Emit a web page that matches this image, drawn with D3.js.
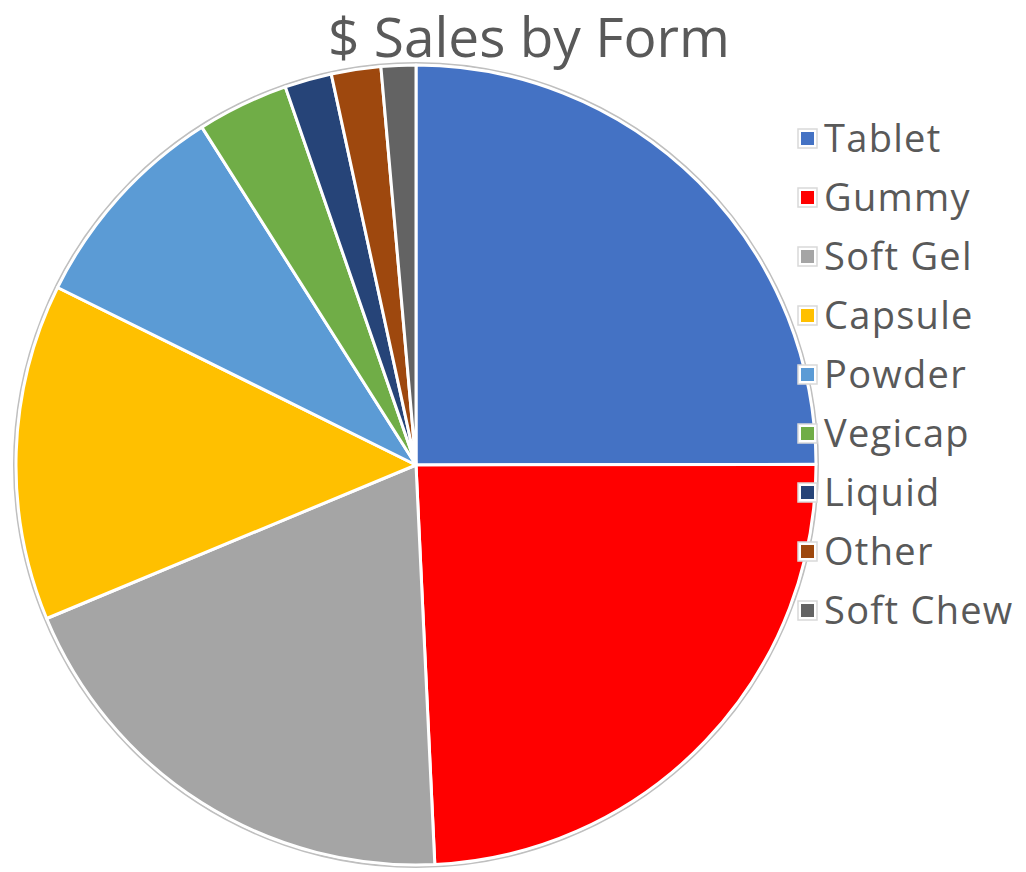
<!DOCTYPE html>
<html><head><meta charset="utf-8">
<script src="https://cdn.jsdelivr.net/npm/d3@7"></script>
<style>html,body{margin:0;padding:0;background:#fff;}</style>
</head><body>
<script>
const title = "$ Sales by Form";
const categories = ["Tablet","Gummy","Soft Gel","Capsule","Powder","Vegicap","Liquid","Other","Soft Chew"];
const values = [25.0, 24.3, 19.5, 13.6, 8.7, 3.7, 1.9, 2.0, 1.4];
const colors = ["#4472C4","#FF0000","#A5A5A5","#FFC000","#5B9BD5","#70AD47","#264478","#9E480E","#636363"];

const W = 1026, H = 872;
const cx = 416, cy = 465, R = 400;
const svg = d3.select("body").append("svg").attr("width", W).attr("height", H);

const data = categories.map((c,i)=>({name:c, value:values[i], color:colors[i]}));
const pie = d3.pie().value(d=>d.value).sort(null);
const arc = d3.arc().innerRadius(0).outerRadius(R);
const g = svg.append("g").attr("transform", `translate(${cx},${cy})`);

g.append("circle").attr("r", R + 2).attr("fill", "none").attr("stroke", "#bfbfbf").attr("stroke-width", 2);
g.selectAll("path").data(pie(data)).enter().append("path")
  .attr("d", arc).attr("fill", d=>d.data.color)
  .attr("stroke", "#fff").attr("stroke-width", 3).attr("stroke-linejoin","round");

svg.append("text").attr("x", 529).attr("y", 57).attr("text-anchor","middle")
  .attr("font-family","'Open Sans', sans-serif").attr("font-size", 54).attr("fill","#595959")
  .attr("textLength", 402).attr("lengthAdjust","spacingAndGlyphs")
  .text(title);

const leg = svg.append("g");
const ly = d3.scalePoint().domain(categories).range([138, 610]);
const items = leg.selectAll("g").data(data).enter().append("g")
  .attr("transform", d=>`translate(798,${ly(d.name)})`);
items.append("rect").attr("x",0).attr("y",-9).attr("width",19).attr("height",19)
  .attr("fill","#fff").attr("stroke","#d9d9d9").attr("stroke-width",1.5);
items.append("rect").attr("x",3).attr("y",-6).attr("width",13).attr("height",13)
  .attr("fill", d=>d.color);
items.append("text").attr("x", 26).attr("y", 14)
  .attr("font-family","'Open Sans', sans-serif").attr("font-size", 38).attr("fill","#595959")
  .attr("letter-spacing", 1.3)
  .text(d=>d.name);
</script>
</body></html>
